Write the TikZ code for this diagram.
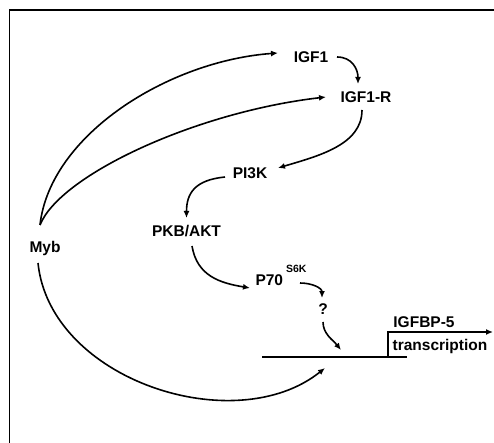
\documentclass[tikz,border=0pt]{standalone}
\usepackage{fontspec}
\setmainfont{Liberation Sans}
\usepackage{tikz}
\usetikzlibrary{arrows.meta}

\tikzset{
  lbl/.style={inner sep=3pt, font=\bfseries\fontsize{15.5}{16}\selectfont},
  path/.style={->, line width=1.6pt},
}

\begin{document}
\begin{tikzpicture}[x=1pt, y=-1pt, >={Latex[length=7pt,width=6pt]}]
  \useasboundingbox (0,0) rectangle (494,443);
  % frame
  \draw[line width=1.8pt] (9.5,443) -- (9.5,10) -- (494,10);

  % nodes
  \node[lbl] (myb) at (45,248.5) {Myb};
  \node[lbl] (igf) at (311,57) {IGF1};
  \node[lbl] (igfr) at (366,97) {IGF1-R};
  \node[lbl] (pik) at (250,173) {PI3K};
  \node[lbl] (pkb) at (186.5,231) {PKB/AKT};
  \node[lbl] (pss) at (281,275.5) {P70\hspace{3pt}\raisebox{12.5pt}{\fontsize{10.5}{11}\selectfont S6K}};
  \node[lbl] (unk) at (323,309.5) {?};
  \node[lbl] (gene) at (424,322.5) {IGFBP-5};
  \node[lbl] (trans) at (440,346) {transcription};

  % gene with start site
  \draw[line width=1.6pt] (262,357) -- (407,357);
  \draw[path] (388,357) -- (388,332) -- (493,332);
  \coordinate (prom) at (341,350);
  \coordinate (site) at (325,368);

  % arrows
  \draw[path] ([shift={(-5,-23.5)}]myb.center) .. controls +(10,-90) and +(-110,8) .. ([shift={(-33,-4)}]igf.center);
  \draw[path] ([shift={(-5,-23.5)}]myb.center) .. controls +(20,-50) and +(-130,15) .. ([shift={(-40,0)}]igfr.center);
  \draw[path] ([shift={(26,0)}]igf.center) .. controls +(15,0) and +(0,-15) .. ([shift={(-8,-13)}]igfr.center);
  \draw[path] ([shift={(-4,13)}]igfr.center) .. controls +(0,35) and +(40,-12) .. ([shift={(28,-5)}]pik.center);
  \draw[path] ([shift={(-25,4)}]pik.center) .. controls +(-30,3) and +(0,-25) .. ([shift={(0,-13)}]pkb.center);
  \draw[path] ([shift={(5.5,15)}]pkb.center) .. controls +(5,30) and +(-30,-5) .. ([shift={(-31,12.5)}]pss.center);
  \draw[path] ([shift={(19,7.5)}]pss.center) .. controls +(12,0) and +(0,-10) .. ([shift={(-1,-11.5)}]unk.center);
  \draw[path] ([shift={(0,12.5)}]unk.center) .. controls +(0,12) and +(-8,-10) .. (prom);
  \draw[path] ([shift={(-7,14.5)}]myb.center) .. controls +(12,117) and +(-90,72) .. (site);
\end{tikzpicture}
\end{document}
